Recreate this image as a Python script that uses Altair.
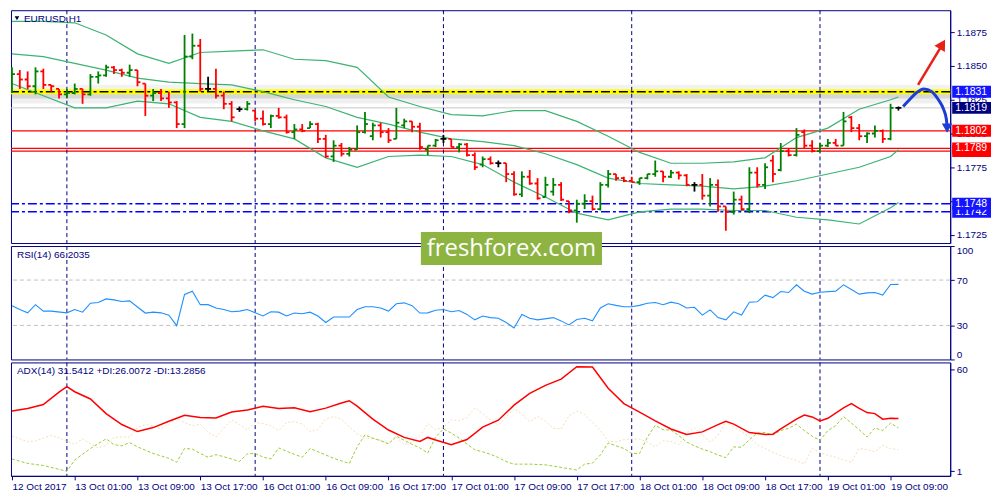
import altair as alt
import pandas as pd
import numpy as np

# ---------------- data ----------------
# hourly EURUSD bars, index 0 = 12 Oct 2017 17:00 ... 113 = 19 Oct 10:00
bar_open = [1.1831,1.1844,1.1840,1.1835,1.1846,1.1836,1.1833,1.1829,1.1830,1.1833,
            1.1829,1.1842,1.1843,1.1849,1.1847,1.1845,1.1847,1.1837,1.1828,1.1830,
            1.1826,1.1823,1.1807,1.1857,1.1865,1.1833,1.1833,1.1828,1.1822,1.1818,
            1.1818,1.1817,1.1811,1.1807,1.1813,1.1812,1.1801,1.1803,1.1804,1.1807,
            1.1796,1.1783,1.1791,1.1785,1.1788,1.1801,1.1798,1.1806,1.1801,1.1796,
            1.1806,1.1809,1.1805,1.1788,1.1791,1.1796,1.1796,1.1790,1.1792,1.1784,
            1.1777,1.1781,1.1778,1.1778,1.1770,1.1755,1.1768,1.1763,1.1753,1.1757,
            1.1762,1.1750,1.1743,1.1748,1.1750,1.1744,1.1762,1.1770,1.1767,1.1765,
            1.1764,1.1767,1.1770,1.1772,1.1768,1.1771,1.1769,1.1762,1.1762,1.1754,
            1.1762,1.1746,1.1742,1.1751,1.1744,1.1771,1.1762,1.1780,1.1773,1.1787,
            1.1784,1.1801,1.1791,1.1787,1.1791,1.1793,1.1791,1.1812,1.1804,1.1798,
            1.1800,1.1802,1.1796,1.1819]
bar_high = [1.1849,1.1847,1.1846,1.1849,1.1848,1.1836,1.1833,1.1833,1.1837,1.1833,
            1.1844,1.1846,1.1851,1.1850,1.1848,1.1851,1.1847,1.1837,1.1833,1.1833,
            1.1831,1.1824,1.1873,1.1874,1.1870,1.1842,1.1848,1.1831,1.1824,1.1820,
            1.1824,1.1817,1.1817,1.1814,1.1819,1.1814,1.1807,1.1807,1.1809,1.1808,
            1.1799,1.1795,1.1793,1.1790,1.1806,1.1816,1.1808,1.1808,1.1804,1.1819,
            1.1811,1.1809,1.1808,1.1791,1.1796,1.1799,1.1796,1.1793,1.1793,1.1786,
            1.1783,1.1783,1.1780,1.1778,1.1772,1.1772,1.1773,1.1767,1.1768,1.1767,
            1.1764,1.1750,1.1751,1.1755,1.1754,1.1764,1.1773,1.1770,1.1768,1.1768,
            1.1767,1.1770,1.1780,1.1772,1.1773,1.1772,1.1770,1.1764,1.1770,1.1767,
            1.1766,1.1746,1.1757,1.1754,1.1775,1.1775,1.1778,1.1784,1.1793,1.1789,
            1.1804,1.1803,1.1795,1.1793,1.1796,1.1796,1.1816,1.1813,1.1807,1.1801,
            1.1806,1.1803,1.1822,1.1820]
bar_low = [1.1830,1.1833,1.1833,1.1829,1.1833,1.1831,1.1826,1.1826,1.1829,1.1822,
           1.1828,1.1837,1.1842,1.1844,1.1842,1.1842,1.1835,1.1813,1.1824,1.1824,
           1.1819,1.1804,1.1804,1.1855,1.1831,1.1831,1.1826,1.1818,1.1809,1.1816,
           1.1817,1.1809,1.1806,1.1804,1.1811,1.1800,1.1796,1.1801,1.1804,1.1793,
           1.1782,1.1779,1.1783,1.1783,1.1788,1.1800,1.1795,1.1797,1.1793,1.1796,
           1.1804,1.1801,1.1788,1.1784,1.1790,1.1793,1.1790,1.1786,1.1783,1.1773,
           1.1775,1.1777,1.1775,1.1764,1.1754,1.1753,1.1762,1.1751,1.1753,1.1754,
           1.1750,1.1741,1.1734,1.1744,1.1743,1.1743,1.1760,1.1765,1.1764,1.1764,
           1.1762,1.1766,1.1768,1.1764,1.1767,1.1766,1.1761,1.1757,1.1751,1.1746,
           1.1742,1.1728,1.1740,1.1743,1.1741,1.1760,1.1759,1.1764,1.1772,1.1783,
           1.1783,1.1789,1.1786,1.1786,1.1790,1.1791,1.1791,1.1801,1.1795,1.1793,
           1.1797,1.1793,1.1795,1.1817]
bar_close = [1.1844,1.1840,1.1835,1.1846,1.1836,1.1835,1.1829,1.1830,1.1833,1.1829,
             1.1842,1.1843,1.1849,1.1847,1.1845,1.1847,1.1838,1.1828,1.1830,1.1826,
             1.1823,1.1807,1.1857,1.1865,1.1833,1.1833,1.1828,1.1822,1.1812,1.1818,
             1.1822,1.1811,1.1807,1.1813,1.1812,1.1801,1.1803,1.1802,1.1807,1.1796,
             1.1783,1.1791,1.1785,1.1788,1.1801,1.1807,1.1806,1.1801,1.1795,1.1808,
             1.1809,1.1805,1.1790,1.1791,1.1795,1.1796,1.1790,1.1792,1.1784,1.1775,
             1.1781,1.1778,1.1778,1.1770,1.1755,1.1768,1.1763,1.1752,1.1762,1.1762,
             1.1751,1.1743,1.1748,1.1750,1.1744,1.1762,1.1770,1.1767,1.1765,1.1764,
             1.1767,1.1770,1.1772,1.1768,1.1771,1.1769,1.1762,1.1762,1.1754,1.1762,
             1.1746,1.1742,1.1751,1.1744,1.1771,1.1762,1.1775,1.1770,1.1787,1.1784,
             1.1799,1.1791,1.1787,1.1791,1.1793,1.1791,1.1809,1.1804,1.1798,1.1800,
             1.1802,1.1796,1.1819,1.1819]

# Bollinger bands, sampled every 4 bars
bb_idx = [0,4,8,12,16,20,24,28,32,36,40,44,48,52,56,60,64,68,72,76,80,84,88,92,96,100,104,108,112,113]
bb_upper = [1.1883,1.1883,1.1882,1.1873,1.1859,1.1852,1.1860,1.1861,1.1862,1.1855,1.1854,1.1849,1.1827,1.1820,1.1814,
            1.1813,1.1817,1.1817,1.1809,1.1798,1.1786,1.1778,1.1778,1.1779,1.1782,1.1797,1.1804,1.1818,1.1825,1.1827]
bb_mid = [1.1859,1.1857,1.1852,1.1847,1.1841,1.1838,1.1837,1.1836,1.1831,1.1825,1.1820,1.1812,1.1807,1.1801,1.1796,
          1.1794,1.1791,1.1785,1.1777,1.1767,1.1763,1.1762,1.1761,1.1759,1.1761,1.1765,1.1770,1.1775,1.1783,1.1788]
bb_lower = [1.1837,1.1828,1.1819,1.1819,1.1824,1.1822,1.1812,1.1809,1.1802,1.1796,1.1782,1.1775,1.1783,1.1784,1.1783,
            1.1777,1.1764,1.1753,1.1741,1.1736,1.1742,1.1744,1.1744,1.1743,1.1743,1.1738,1.1736,1.1733,1.1745,1.1749]

# horizontal levels
lvl_yellow = [1.1831]
lvl_gray = [1.1819]
lvl_red = [1.1802, 1.1789, 1.1787]
lvl_blue = [1.1748, 1.1742]

# price boxes on the right axis (drawn in this order)
box_price = [1.1831, 1.1819, 1.1802, 1.1787, 1.1789, 1.1742, 1.1748]
box_color = ['#1414FF', '#000080', '#FF0000', '#FF0000', '#FF0000', '#1414FF', '#1414FF']

# annotation arrows (bar index, price)
red_arrow_i = [115.5, 118.4]
red_arrow_p = [1.1836, 1.1864]
red_head_i = [118.6]
red_head_p = [1.1866]
blue_curve_i = [113.6, 114.4, 115.25, 116.25, 117.25, 118.1, 118.75, 119.1, 119.2]
blue_curve_p = [1.1820, 1.1825, 1.1830, 1.1833, 1.1831, 1.1825, 1.1818, 1.1811, 1.1806]
blue_head_i = [119.2]
blue_head_p = [1.1804]

# day separators
day_sep = [7, 31, 55, 79, 103]

# RSI(14)
rsi_idx = [0,1,2,3,4,5,
           7,8,9,10,11,12,13,14,15,16,17,18,19,20,21,22,23,24,25,26,27,28,29,30,31,32,33,34,35,36,37,38,39,40,41,
           43,44,45,46,47,48,49,50,51,52,53,54,55,56,57,58,59,60,61,62,63,64,65,66,67,
           69,70,71,72,73,74,75,76,77,78,79,80,81,82,83,84,85,86,87,88,89,90,91,92,93,94,95,96,97,98,99,100,101,102,103,
           105,106,107,108,109,110,111,112,113]
rsi_val = [47.4,44.0,41.1,48.3,42.6,42.6,
           41.1,44.0,41.7,49.6,50.2,53.4,52.5,51.1,51.6,46.2,40.9,41.7,41.1,39.1,29.8,57.3,60.2,48.3,48.3,45.4,44.0,42.0,
           42.6,44.0,41.1,38.3,42.0,41.7,38.3,40.9,40.3,41.7,38.3,32.6,37.4,
           37.4,44.0,46.5,46.5,45.4,42.6,49.1,49.9,47.4,40.9,41.1,43.4,44.0,42.0,43.1,39.7,34.9,38.3,36.9,36.3,32.6,27.8,
           39.7,36.3,34.9,
           36.9,34.0,30.4,35.2,36.3,34.0,45.4,49.1,47.7,46.5,46.5,47.7,49.6,50.2,48.3,50.5,49.1,45.4,46.0,39.1,43.7,36.9,
           34.9,42.0,39.1,50.5,50.8,56.7,54.5,59.9,59.0,65.8,60.2,57.6,59.3,
           60.2,65.8,61.6,57.6,58.7,59.0,56.7,66.1,66.2]
rsi_levels = [30, 70]

# ADX(14)
adx_idx = [0,2,4,6,7,8,10,12,14,16,18,20,22,24,26,28,30,32,34,36,38,40,42,43,44,46,48,50,52,53,54,56,58,60,62,
           64,66,68,70,72,74,76,78,80,82,84,86,88,90,91,92,94,96,97,98,100,101,102,103,104,106,107,108,109,110,111,112,113]
adx_val = [35.8,37.3,39.6,46.8,50.0,47.0,42.8,34.3,28.0,23.9,26.2,29.9,33.3,32.0,31.8,35.2,36.4,38.6,37.3,37.7,
           35.4,37.5,40.5,41.8,38.6,31.1,24.8,20.5,18.2,20.5,19.0,16.3,19.3,26.5,30.5,
           39.2,46.0,50.7,54.3,61.5,61.3,49.0,40.1,35.2,30.1,25.4,22.2,23.7,27.9,29.9,28.2,23.3,22.2,22.4,25.4,
           31.1,33.5,32.4,30.1,31.6,37.7,40.1,37.3,34.9,34.3,31.1,31.6,31.5]
pdi_idx = [0,2,4,6,7,8,10,12,13,14,15,16,18,20,21,22,23,24,25,26,27,28,29,30,31,32,33,34,35,36,37,38,39,40,41,42,43,
           44,45,46,47,48,49,50,51,52,53,54,55,56,57,58,59,60,61,62,63,64,66,68,70,72,73,74,75,76,77,78,79,80,81,82,
           83,84,85,86,87,88,89,90,91,92,93,94,95,96,97,98,99,100,101,102,103,104,105,106,107,108,109,110,111,112,113]
pdi_val = [8.0,5.4,4.2,2.0,0.8,7.4,14.1,19.7,16.3,15.6,17.5,15.0,11.2,8.4,6.1,14.1,13.7,11.2,9.0,10.5,9.3,8.0,6.5,
           11.0,11.2,9.1,8.0,14.4,12.5,10.7,9.0,14.1,12.2,10.3,8.4,6.9,5.4,
           15.0,22.0,20.1,18.6,16.7,21.2,18.8,16.5,14.4,11.4,20.7,25.4,23.0,20.1,16.7,13.3,12.2,10.7,8.8,6.5,5.0,5.0,
           4.6,3.1,1.6,5.0,5.6,10.3,17.3,15.6,14.1,11.2,11.2,20.7,27.5,
           25.0,24.8,21.6,17.8,15.6,13.7,12.2,10.3,8.8,15.0,14.8,19.2,23.1,23.3,22.0,24.5,25.8,28.2,24.5,21.2,18.8,
           24.5,27.3,32.6,28.8,25.0,20.7,26.0,24.5,28.8,26.0]
mdi_val = [21.2,19.7,18.0,18.4,20.1,21.6,20.3,18.2,16.5,19.7,16.9,14.4,15.9,20.5,20.7,20.7,26.3,28.0,27.3,25.4,
           28.2,31.5,29.2,27.3,28.2,23.5,20.7,25.8,30.7,28.0,24.8,29.2,28.6,27.3,24.5,29.2,29.6,28.2,23.9,25.0,
           31.1,32.6,31.1,26.7,22.6,20.1,19.7,18.8,16.9,20.5,16.5,17.8,21.6,28.6,25.0,26.3,30.7,30.1,32.0,37.7,
           34.3,30.5,27.7,32.4,37.1,33.9,29.6,32.6,29.9,25.8,25.4,33.0,35.8,33.9,29.2,24.5,18.2,18.0,19.2,19.7,
           19.5,17.8,15.0,18.6,18.2,16.3,23.1,26.0,22.0,17.8,21.6,29.7,26.3,23.9,20.7,16.3,14.1,11.8,9.9,8.4,
           7.2,5.0,14.1,11.8,10.1,9.1,7.4,6.1,14.1,13.3,12.2,15.9,14.1,13.3]

# time axis labels
xlab_idx = [0, 8, 16, 24, 32, 40, 48, 56, 64, 72, 80, 88, 96, 104, 112]
xlab_text = ['12 Oct 2017', '13 Oct 01:00', '13 Oct 09:00', '13 Oct 17:00', '16 Oct 01:00', '16 Oct 09:00',
             '16 Oct 17:00', '17 Oct 01:00', '17 Oct 09:00', '17 Oct 17:00', '18 Oct 01:00', '18 Oct 09:00',
             '18 Oct 17:00', '19 Oct 01:00', '19 Oct 09:00']

# ---------------- layout & style ----------------
W = 944
H1, H2, H3 = 234, 114, 114
NAVY = '#000080'
FONT = 'Liberation Sans'
XDOM = [-0.125, 119.6]
PDOM = [1.17189, 1.18913]

xs = alt.Scale(domain=XDOM, nice=False, zero=False)
ps = alt.Scale(domain=PDOM, nice=False, zero=False)

price_axis = alt.Axis(orient='right', values=[1.1725, 1.175, 1.1775, 1.18, 1.1825, 1.185, 1.1875],
                      format='.4f', tickSize=4, labelPadding=2, domainColor=NAVY, tickColor=NAVY,
                      labelColor=NAVY, labelFont=FONT, labelFontSize=10, title=None, grid=False)


def X(field='i'):
    return alt.X(f'{field}:Q', scale=xs, axis=None)


def PY(field):
    return alt.Y(f'{field}:Q', scale=ps, axis=price_axis)


bars = pd.DataFrame({'i': np.arange(len(bar_open)), 'o': bar_open, 'h': bar_high,
                     'l': bar_low, 'c': bar_close})
bars['dir'] = np.where(bars['c'] > bars['o'], 'up', np.where(bars['c'] < bars['o'], 'down', 'flat'))
cscale = alt.Scale(domain=['up', 'down', 'flat'], range=['#008000', '#FF0000', '#000000'])
bcolor = alt.Color('dir:N', scale=cscale, legend=None)

bb = pd.DataFrame({'i': bb_idx, 'up': bb_upper, 'mid': bb_mid, 'lo': bb_lower})
sep_df = pd.DataFrame({'i': day_sep})


def band(df, col, op, off1, off2):
    return (alt.Chart(df).mark_rect(color=col, opacity=op, yOffset=off1, y2Offset=off2)
            .encode(x=alt.value(0), x2=alt.value(W), y=PY('p'), y2='p'))


main_layers = []
# yellow level with soft grey shadow
ydf = pd.DataFrame({'p': lvl_yellow})
main_layers.append(band(ydf, '#808080', 0.10, -7, -2))
main_layers.append(band(ydf, '#808080', 0.12, 2, 12))
main_layers.append(band(ydf, '#808080', 0.22, 2, 7))
main_layers.append(band(ydf, '#FFFF00', 1.0, -2.5, 2.5))
main_layers.append(alt.Chart(ydf).mark_rule(color='#000000', strokeWidth=1.5, strokeDash=[9, 3, 3, 3]).encode(y=PY('p')))
main_layers.append(alt.Chart(pd.DataFrame({'p': lvl_gray})).mark_rule(color='#C8C8C8', strokeWidth=1).encode(y=PY('p')))
main_layers.append(alt.Chart(pd.DataFrame({'p': lvl_red})).mark_rule(color='#FF0000', strokeWidth=1.2).encode(y=PY('p')))
main_layers.append(alt.Chart(pd.DataFrame({'p': lvl_blue})).mark_rule(color='#0000FF', strokeWidth=1.5,
                                                                       strokeDash=[9, 3, 3, 3]).encode(y=PY('p')))
main_layers.append(alt.Chart(sep_df).mark_rule(color=NAVY, strokeWidth=1, strokeDash=[4, 3]).encode(x=X()))
for f in ['up', 'mid', 'lo']:
    main_layers.append(alt.Chart(bb).mark_line(color='#3CB371', strokeWidth=1.2).encode(x=X(), y=PY(f)))
main_layers.append(alt.Chart(bars).mark_rule(strokeWidth=1.8).encode(x=X(), y=PY('l'), y2='h', color=bcolor))
main_layers.append(alt.Chart(bars).mark_rule(strokeWidth=1.8, xOffset=-3, x2Offset=0, clip=True)
                   .encode(x=X(), x2='i', y=PY('o'), color=bcolor))
main_layers.append(alt.Chart(bars).mark_rule(strokeWidth=1.8, xOffset=0, x2Offset=3)
                   .encode(x=X(), x2='i', y=PY('c'), color=bcolor))
# arrows
main_layers.append(alt.Chart(pd.DataFrame({'i': red_arrow_i, 'p': red_arrow_p}))
                   .mark_line(color='#E82018', strokeWidth=2.5).encode(x=X(), y=PY('p')))
main_layers.append(alt.Chart(pd.DataFrame({'i': red_head_i, 'p': red_head_p}))
                   .mark_point(shape='triangle-up', filled=True, size=150, angle=31, color='#E82018', opacity=1)
                   .encode(x=X(), y=PY('p')))
main_layers.append(alt.Chart(pd.DataFrame({'i': blue_curve_i, 'p': blue_curve_p}))
                   .mark_line(color='#1E3CD8', strokeWidth=3, interpolate='monotone').encode(x=X(), y=PY('p')))
main_layers.append(alt.Chart(pd.DataFrame({'i': blue_head_i, 'p': blue_head_p}))
                   .mark_point(shape='triangle-down', filled=True, size=110, color='#1E3CD8', opacity=1)
                   .encode(x=X(), y=PY('p')))
# title
tdf = pd.DataFrame({'t': ['EURUSD,H1']})
main_layers.append(alt.Chart(tdf).mark_point(shape='triangle-down', filled=True, size=22, color='#000040', opacity=1)
                   .encode(x=alt.value(6), y=alt.value(8)))
main_layers.append(alt.Chart(tdf).mark_text(align='left', baseline='middle', font=FONT, fontSize=10, color=NAVY)
                   .encode(x=alt.value(13), y=alt.value(9), text='t:N'))
# price boxes
for p, col in zip(box_price, box_color):
    d = pd.DataFrame({'p': [p], 't': [f'{p:.4f}']})
    main_layers.append(alt.Chart(d).mark_rect(color=col, yOffset=-6, y2Offset=6)
                       .encode(x=alt.value(W + 2), x2=alt.value(W + 41), y=PY('p'), y2='p'))
    main_layers.append(alt.Chart(d).mark_text(align='left', baseline='middle', font=FONT, fontSize=10.5,
                                              color='white')
                       .encode(x=alt.value(W + 5), y=PY('p'), text='t:N'))

main = alt.layer(*main_layers).properties(width=W, height=H1)

# ---------------- RSI panel ----------------
rsi_axis = alt.Axis(orient='right', values=[0, 30, 70, 100], labelFlush=True, tickSize=4, labelPadding=2,
                    domainColor=NAVY, tickColor=NAVY, labelColor=NAVY, labelFont=FONT, labelFontSize=10,
                    title=None, grid=False)
rs = alt.Scale(domain=[0, 100], nice=False, zero=False)


def RY(field):
    return alt.Y(f'{field}:Q', scale=rs, axis=rsi_axis)


rsi_df = pd.DataFrame({'i': rsi_idx, 'v': rsi_val})
wm = pd.DataFrame({'t': ['freshforex.com']})
rsi_layers = [
    alt.Chart(pd.DataFrame({'v': rsi_levels})).mark_rule(color='#C0C0C0', strokeWidth=1, strokeDash=[4, 3])
    .encode(y=RY('v')),
    alt.Chart(sep_df).mark_rule(color=NAVY, strokeWidth=1, strokeDash=[4, 3]).encode(x=X()),
    alt.Chart(rsi_df).mark_line(color='#1E90FF', strokeWidth=1.1).encode(x=X(), y=RY('v')),
    alt.Chart(pd.DataFrame({'t': ['RSI(14) 66.2035']})).mark_text(align='left', baseline='middle', font=FONT,
                                                                   fontSize=10, color=NAVY)
    .encode(x=alt.value(6), y=alt.value(9), text='t:N'),
    alt.Chart(wm).mark_rect(color='#8DB441').encode(x=alt.value(412), x2=alt.value(594),
                                                    y=alt.value(-14), y2=alt.value(19)),
    alt.Chart(wm).mark_text(align='center', baseline='middle', font='Open Sans', fontSize=24, color='white')
    .encode(x=alt.value(503), y=alt.value(3), text='t:N'),
]
rsi = alt.layer(*rsi_layers).properties(width=W, height=H2)

# ---------------- ADX panel ----------------
adx_axis = alt.Axis(orient='right', values=[1, 60], tickSize=4, labelPadding=2, domainColor=NAVY,
                    tickColor=NAVY, labelColor=NAVY, labelFont=FONT, labelFontSize=10, title=None, grid=False)
ascale = alt.Scale(domain=[-1.8, 64], nice=False, zero=False)
label_expr = '[' + ','.join("'%s'" % s for s in xlab_text) + '][round(datum.value / 8)]'
time_axis = alt.Axis(orient='bottom', values=xlab_idx, labelExpr=label_expr, labelAlign='left',
                     labelOverlap=False, labelFlush=False, tickSize=4, labelPadding=2, domainColor=NAVY,
                     tickColor=NAVY, labelColor=NAVY, labelFont=FONT, labelFontSize=10, title=None, grid=False)


def XB(field='i'):
    return alt.X(f'{field}:Q', scale=xs, axis=time_axis)


def AY(field):
    return alt.Y(f'{field}:Q', scale=ascale, axis=adx_axis)


adx_df = pd.DataFrame({'i': adx_idx, 'v': adx_val})
pdi_df = pd.DataFrame({'i': pdi_idx, 'v': pdi_val})
mdi_df = pd.DataFrame({'i': np.arange(len(mdi_val)), 'v': mdi_val})
adx_layers = [
    alt.Chart(sep_df).mark_rule(color=NAVY, strokeWidth=1, strokeDash=[4, 3]).encode(x=XB()),
    alt.Chart(mdi_df).mark_line(color='#F5DEB3', strokeWidth=1, strokeDash=[2, 2]).encode(x=XB(), y=AY('v')),
    alt.Chart(pdi_df).mark_line(color='#9ACD32', strokeWidth=1, strokeDash=[3, 2]).encode(x=XB(), y=AY('v')),
    alt.Chart(adx_df).mark_line(color='#FF0000', strokeWidth=1.5).encode(x=XB(), y=AY('v')),
    alt.Chart(pd.DataFrame({'t': ['ADX(14) 31.5412 +DI:26.0072 -DI:13.2856']}))
    .mark_text(align='left', baseline='middle', font=FONT, fontSize=10, color=NAVY)
    .encode(x=alt.value(6), y=alt.value(9), text='t:N'),
]
adx = alt.layer(*adx_layers).properties(width=W, height=H3)

chart = (alt.vconcat(main, rsi, adx, spacing=3, bounds='flush')
         .resolve_scale(x='independent', y='independent')
         .properties(padding=0, background='white')
         .configure_view(stroke=NAVY, strokeWidth=1))

chart.save("out.html", embed_options={"renderer": "svg", "actions": False})
